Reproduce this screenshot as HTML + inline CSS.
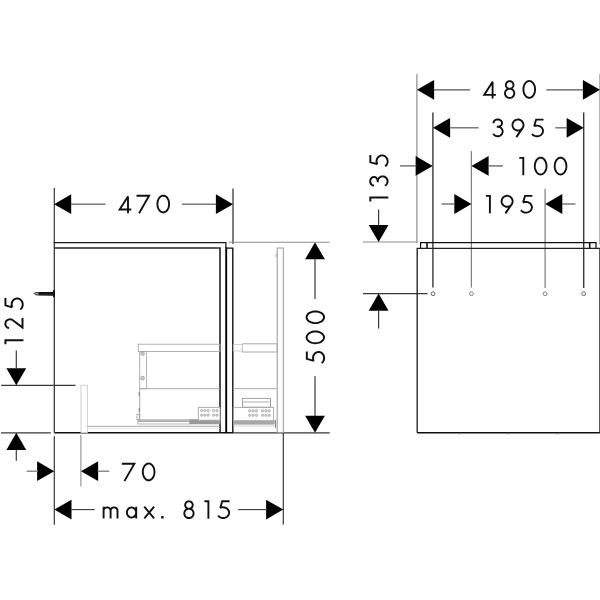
<!DOCTYPE html>
<html><head><meta charset="utf-8"><title>drawing</title>
<style>html,body{margin:0;padding:0;background:#fff;font-family:"Liberation Sans",sans-serif;}svg{display:block}</style>
</head><body>
<svg width="600" height="600" viewBox="0 0 600 600">
<rect width="600" height="600" fill="#fff"/>
<line x1="54.30" y1="188.00" x2="54.30" y2="243.00" stroke="#383838" stroke-width="1.20"/>
<line x1="233.00" y1="188.50" x2="233.00" y2="244.00" stroke="#383838" stroke-width="1.30"/>
<path d="M54.10,204.20 L71.20,194.30 L71.20,214.10 Z" fill="#000"/>
<path d="M233.00,204.20 L215.90,194.30 L215.90,214.10 Z" fill="#000"/>
<line x1="71.00" y1="204.20" x2="105.50" y2="204.20" stroke="#7a7a7a" stroke-width="1.35"/>
<line x1="182.00" y1="204.20" x2="216.20" y2="204.20" stroke="#7a7a7a" stroke-width="1.35"/>
<line x1="229.00" y1="242.20" x2="329.70" y2="242.20" stroke="#8c8c8c" stroke-width="1.10"/>
<line x1="1.00" y1="432.80" x2="50.80" y2="432.80" stroke="#383838" stroke-width="1.20"/>
<line x1="54.30" y1="432.80" x2="233.00" y2="432.80" stroke="#111" stroke-width="1.40"/>
<line x1="233.00" y1="432.80" x2="329.70" y2="432.80" stroke="#383838" stroke-width="1.20"/>
<line x1="54.30" y1="242.50" x2="54.30" y2="432.80" stroke="#333" stroke-width="1.25"/>
<path d="M53.70,242.50 L225.90,242.50 L225.90,248.00 " fill="none" stroke="#1a1a1a" stroke-width="1.25" stroke-linejoin="miter"/>
<line x1="226.20" y1="247.40" x2="226.20" y2="432.80" stroke="#000" stroke-width="1.90"/>
<path d="M54.30,248.00 L220.00,248.00 L220.00,432.80 " fill="none" stroke="#222" stroke-width="1.60" stroke-linejoin="miter"/>
<path d="M226.00,248.10 L232.80,248.10 L232.80,432.80 " fill="none" stroke="#111" stroke-width="1.40" stroke-linejoin="miter"/>
<path d="M38.2,292.0 L52.9,291.9 L53.2,289.9 L55,289.9 L55,297.3 L53.2,297.3 L52.9,295.7 L38.2,295.6 Z" fill="#111"/>
<path d="M38.4,292.5 L35.6,292.6 Q34.4,292.7 34.4,293.6 Q34.4,294.5 35.6,294.7 L38.4,295.1" fill="#999" stroke="#222" stroke-width="0.8"/>
<line x1="41" y1="294.6" x2="52" y2="294.6" stroke="#555" stroke-width="0.6" stroke-dasharray="1.2,0.8"/>
<line x1="1.20" y1="385.30" x2="75.50" y2="385.30" stroke="#383838" stroke-width="1.20"/>
<path d="M16.30,385.30 L6.40,368.20 L26.20,368.20 Z" fill="#000"/>
<line x1="16.30" y1="350.50" x2="16.30" y2="368.60" stroke="#383838" stroke-width="1.20"/>
<path d="M16.30,432.80 L6.40,449.90 L26.20,449.90 Z" fill="#000"/>
<line x1="16.30" y1="449.50" x2="16.30" y2="460.80" stroke="#383838" stroke-width="1.20"/>
<rect x="81.00" y="385.30" width="6.30" height="47.20" fill="none" stroke="#cfcfcf" stroke-width="1.00"/>
<line x1="87.30" y1="426.30" x2="220.00" y2="426.30" stroke="#a8a8a8" stroke-width="1.00"/>
<line x1="87.30" y1="428.60" x2="220.00" y2="428.60" stroke="#e2e2e2" stroke-width="0.80"/>
<rect x="138.20" y="344.20" width="81.80" height="7.30" fill="none" stroke="#a8a8a8" stroke-width="0.90"/>
<rect x="139.70" y="351.50" width="6.90" height="37.20" fill="none" stroke="#a8a8a8" stroke-width="0.90"/>
<circle cx="142.60" cy="353.60" r="1.80" fill="none" stroke="#888" stroke-width="0.80"/>
<circle cx="142.60" cy="353.60" r="0.70" fill="none" stroke="#888" stroke-width="0.60"/>
<circle cx="142.60" cy="378.10" r="1.80" fill="none" stroke="#888" stroke-width="0.80"/>
<circle cx="142.60" cy="378.10" r="0.70" fill="none" stroke="#888" stroke-width="0.60"/>
<line x1="139.70" y1="388.70" x2="220.00" y2="388.70" stroke="#a8a8a8" stroke-width="1.00"/>
<line x1="139.70" y1="388.70" x2="139.70" y2="419.70" stroke="#a8a8a8" stroke-width="1.00"/>
<line x1="139.20" y1="392.00" x2="139.20" y2="396.00" stroke="#777" stroke-width="1.00"/>
<line x1="139.20" y1="408.00" x2="139.20" y2="412.00" stroke="#777" stroke-width="1.00"/>
<rect x="137.00" y="414.20" width="2.70" height="5.50" fill="none" stroke="#999" stroke-width="0.80"/>
<rect x="137.80" y="419.70" width="82.20" height="1.90" fill="#b5b5b5" stroke="#aaa" stroke-width="0.50"/>
<rect x="189.50" y="419.70" width="30.50" height="4.30" fill="#9a9a9a" stroke="#999" stroke-width="0.50"/>
<rect x="137.80" y="421.60" width="51.70" height="2.40" fill="none" stroke="#aaa" stroke-width="0.80"/>
<rect x="198.30" y="407.40" width="21.70" height="12.80" fill="#fff" stroke="#a8a8a8" stroke-width="0.90"/>
<circle cx="201.60" cy="410.60" r="1.15" fill="#ddd" stroke="#999" stroke-width="0.70"/>
<circle cx="204.90" cy="410.60" r="1.15" fill="#ddd" stroke="#999" stroke-width="0.70"/>
<circle cx="208.20" cy="410.60" r="1.15" fill="#ddd" stroke="#999" stroke-width="0.70"/>
<circle cx="213.60" cy="410.60" r="1.15" fill="#ddd" stroke="#999" stroke-width="0.70"/>
<circle cx="216.90" cy="410.60" r="1.15" fill="#ddd" stroke="#999" stroke-width="0.70"/>
<circle cx="201.60" cy="415.20" r="1.15" fill="#ddd" stroke="#999" stroke-width="0.70"/>
<circle cx="204.90" cy="415.20" r="1.15" fill="#ddd" stroke="#999" stroke-width="0.70"/>
<circle cx="208.20" cy="415.20" r="1.15" fill="#ddd" stroke="#999" stroke-width="0.70"/>
<circle cx="213.60" cy="415.20" r="1.15" fill="#ddd" stroke="#999" stroke-width="0.70"/>
<circle cx="216.90" cy="415.20" r="1.15" fill="#ddd" stroke="#999" stroke-width="0.70"/>
<rect x="277.20" y="248.00" width="6.10" height="184.50" fill="none" stroke="#989898" stroke-width="1.00"/>
<line x1="276.20" y1="254.00" x2="276.20" y2="257.00" stroke="#888" stroke-width="0.80"/>
<rect x="242.40" y="343.80" width="34.80" height="8.20" fill="none" stroke="#a8a8a8" stroke-width="1.00"/>
<rect x="233.30" y="344.60" width="9.10" height="6.40" fill="none" stroke="#c8c8c8" stroke-width="0.80"/>
<line x1="233.30" y1="388.70" x2="277.20" y2="388.70" stroke="#a8a8a8" stroke-width="1.00"/>
<rect x="242.40" y="398.40" width="28.10" height="8.80" fill="none" stroke="#999" stroke-width="0.90"/>
<line x1="242.40" y1="402.00" x2="270.50" y2="402.00" stroke="#a8a8a8" stroke-width="0.90"/>
<rect x="233.30" y="407.40" width="40.30" height="13.40" fill="none" stroke="#a8a8a8" stroke-width="0.90"/>
<rect x="233.30" y="420.80" width="41.20" height="3.60" fill="#a8a8a8" stroke="#aaa" stroke-width="0.40"/>
<line x1="233.30" y1="426.00" x2="277.00" y2="426.00" stroke="#c8c8c8" stroke-width="0.80"/>
<line x1="275.50" y1="420.00" x2="275.50" y2="428.00" stroke="#777" stroke-width="0.90"/>
<circle cx="249.70" cy="410.80" r="1.15" fill="#ddd" stroke="#999" stroke-width="0.70"/>
<circle cx="253.10" cy="410.80" r="1.15" fill="#ddd" stroke="#999" stroke-width="0.70"/>
<circle cx="256.50" cy="410.80" r="1.15" fill="#ddd" stroke="#999" stroke-width="0.70"/>
<circle cx="262.60" cy="410.80" r="1.15" fill="#ddd" stroke="#999" stroke-width="0.70"/>
<circle cx="265.90" cy="410.80" r="1.15" fill="#ddd" stroke="#999" stroke-width="0.70"/>
<circle cx="269.20" cy="410.80" r="1.15" fill="#ddd" stroke="#999" stroke-width="0.70"/>
<circle cx="249.70" cy="415.30" r="1.15" fill="#ddd" stroke="#999" stroke-width="0.70"/>
<circle cx="253.10" cy="415.30" r="1.15" fill="#ddd" stroke="#999" stroke-width="0.70"/>
<circle cx="256.50" cy="415.30" r="1.15" fill="#ddd" stroke="#999" stroke-width="0.70"/>
<circle cx="262.60" cy="415.30" r="1.15" fill="#ddd" stroke="#999" stroke-width="0.70"/>
<circle cx="265.90" cy="415.30" r="1.15" fill="#ddd" stroke="#999" stroke-width="0.70"/>
<circle cx="269.20" cy="415.30" r="1.15" fill="#ddd" stroke="#999" stroke-width="0.70"/>
<path d="M315.00,242.20 L305.10,259.30 L324.90,259.30 Z" fill="#000"/>
<path d="M315.00,432.80 L305.10,415.70 L324.90,415.70 Z" fill="#000"/>
<line x1="315.00" y1="258.60" x2="315.00" y2="299.00" stroke="#383838" stroke-width="1.20"/>
<line x1="315.00" y1="376.20" x2="315.00" y2="416.30" stroke="#383838" stroke-width="1.20"/>
<line x1="54.30" y1="436.30" x2="54.30" y2="524.70" stroke="#383838" stroke-width="1.20"/>
<line x1="80.90" y1="435.00" x2="80.90" y2="486.50" stroke="#8c8c8c" stroke-width="1.10"/>
<line x1="283.30" y1="433.00" x2="283.30" y2="524.50" stroke="#383838" stroke-width="1.20"/>
<path d="M54.20,471.20 L37.10,461.30 L37.10,481.10 Z" fill="#000"/>
<line x1="26.70" y1="471.20" x2="38.00" y2="471.20" stroke="#7a7a7a" stroke-width="1.30"/>
<path d="M81.00,471.20 L98.10,461.30 L98.10,481.10 Z" fill="#000"/>
<line x1="97.50" y1="471.20" x2="109.20" y2="471.20" stroke="#7a7a7a" stroke-width="1.30"/>
<path d="M54.40,509.60 L71.50,499.70 L71.50,519.50 Z" fill="#000"/>
<line x1="71.00" y1="509.60" x2="94.70" y2="509.60" stroke="#383838" stroke-width="1.10"/>
<path d="M283.20,509.60 L266.10,499.70 L266.10,519.50 Z" fill="#000"/>
<line x1="238.20" y1="509.60" x2="267.00" y2="509.60" stroke="#383838" stroke-width="1.10"/>
<line x1="416.90" y1="74.00" x2="416.90" y2="243.00" stroke="#8c8c8c" stroke-width="1.20"/>
<line x1="599.70" y1="74.00" x2="599.70" y2="244.50" stroke="#b0b0b0" stroke-width="1.20"/>
<path d="M417.00,89.80 L434.10,79.90 L434.10,99.70 Z" fill="#000"/>
<line x1="433.50" y1="89.80" x2="470.00" y2="89.80" stroke="#555" stroke-width="1.30"/>
<path d="M600.00,89.80 L582.90,79.90 L582.90,99.70 Z" fill="#000"/>
<line x1="546.30" y1="89.80" x2="583.50" y2="89.80" stroke="#555" stroke-width="1.30"/>
<line x1="432.90" y1="112.50" x2="432.90" y2="287.60" stroke="#383838" stroke-width="1.40"/>
<line x1="583.70" y1="112.50" x2="583.70" y2="288.00" stroke="#383838" stroke-width="1.40"/>
<path d="M433.00,127.80 L450.10,117.90 L450.10,137.70 Z" fill="#000"/>
<line x1="449.50" y1="127.80" x2="478.70" y2="127.80" stroke="#6a6a6a" stroke-width="1.35"/>
<path d="M583.70,127.80 L566.60,117.90 L566.60,137.70 Z" fill="#000"/>
<line x1="555.30" y1="127.80" x2="567.20" y2="127.80" stroke="#6a6a6a" stroke-width="1.35"/>
<line x1="471.40" y1="151.00" x2="471.40" y2="287.60" stroke="#828282" stroke-width="1.25"/>
<line x1="545.10" y1="188.80" x2="545.10" y2="288.00" stroke="#828282" stroke-width="1.25"/>
<path d="M432.70,165.90 L415.60,156.00 L415.60,175.80 Z" fill="#000"/>
<line x1="400.00" y1="165.90" x2="416.40" y2="165.90" stroke="#666" stroke-width="1.35"/>
<path d="M471.50,165.90 L488.60,156.00 L488.60,175.80 Z" fill="#000"/>
<line x1="488.00" y1="165.90" x2="503.00" y2="165.90" stroke="#666" stroke-width="1.35"/>
<path d="M471.40,204.00 L454.30,194.10 L454.30,213.90 Z" fill="#000"/>
<line x1="441.40" y1="204.00" x2="454.60" y2="204.00" stroke="#6a6a6a" stroke-width="1.35"/>
<path d="M545.20,204.00 L562.30,194.10 L562.30,213.90 Z" fill="#000"/>
<line x1="561.80" y1="204.00" x2="575.50" y2="204.00" stroke="#6a6a6a" stroke-width="1.35"/>
<line x1="363.00" y1="242.00" x2="417.00" y2="242.00" stroke="#8c8c8c" stroke-width="1.10"/>
<path d="M378.60,242.00 L368.70,224.90 L388.50,224.90 Z" fill="#000"/>
<line x1="378.60" y1="209.40" x2="378.60" y2="226.00" stroke="#383838" stroke-width="1.20"/>
<line x1="363.00" y1="293.60" x2="427.60" y2="293.60" stroke="#383838" stroke-width="1.20"/>
<path d="M378.60,293.60 L368.70,310.70 L388.50,310.70 Z" fill="#000"/>
<line x1="378.60" y1="310.00" x2="378.60" y2="328.40" stroke="#383838" stroke-width="1.20"/>
<path d="M417.20,432.70 L417.20,248.30 L600.00,248.30 " fill="none" stroke="#222" stroke-width="1.35" stroke-linejoin="miter"/>
<line x1="417.20" y1="432.70" x2="600.00" y2="432.70" stroke="#111" stroke-width="1.40"/>
<line x1="599.70" y1="248.30" x2="599.70" y2="432.70" stroke="#333" stroke-width="1.00"/>
<path d="M420.60,248.30 L420.60,242.70 L596.00,242.70 L596.00,248.30 " fill="none" stroke="#111" stroke-width="1.20" stroke-linejoin="miter"/>
<line x1="427.00" y1="242.70" x2="427.00" y2="248.30" stroke="#111" stroke-width="1.60"/>
<line x1="589.70" y1="242.70" x2="589.70" y2="248.30" stroke="#111" stroke-width="1.60"/>
<circle cx="433.00" cy="293.70" r="1.90" fill="none" stroke="#555" stroke-width="0.90"/>
<circle cx="471.40" cy="293.70" r="1.90" fill="none" stroke="#777" stroke-width="0.90"/>
<circle cx="545.10" cy="293.70" r="1.90" fill="none" stroke="#777" stroke-width="0.90"/>
<circle cx="583.70" cy="293.70" r="1.90" fill="none" stroke="#555" stroke-width="0.90"/>
<line x1="458.00" y1="433.80" x2="460.50" y2="433.80" stroke="#888" stroke-width="0.90"/>
<line x1="507.00" y1="433.80" x2="509.50" y2="433.80" stroke="#888" stroke-width="0.90"/>
<line x1="556.00" y1="433.80" x2="558.50" y2="433.80" stroke="#888" stroke-width="0.90"/>
<path transform="translate(118.00,194.80)" d="M10,18.4 V1.6 L1.6,14.7 H13.3" fill="none" stroke="#111" stroke-width="1.90" stroke-linejoin="miter" stroke-miterlimit="3"/>
<path transform="translate(136.50,194.80)" d="M0,1.0 H12.6 L2.6,18.4" fill="none" stroke="#111" stroke-width="1.90" stroke-linejoin="miter" stroke-miterlimit="3"/>
<path transform="translate(156.50,194.80)" d="M12.60,9.20 L12.53,10.51 L12.31,11.80 L11.96,13.01 L11.48,14.14 L10.89,15.14 L10.19,16.00 L9.41,16.68 L8.56,17.19 L7.67,17.50 L6.75,17.60 L5.83,17.50 L4.94,17.19 L4.09,16.68 L3.31,16.00 L2.61,15.14 L2.02,14.14 L1.54,13.01 L1.19,11.80 L0.97,10.51 L0.90,9.20 L0.97,7.89 L1.19,6.60 L1.54,5.39 L2.02,4.26 L2.61,3.26 L3.31,2.40 L4.09,1.72 L4.94,1.21 L5.83,0.90 L6.75,0.80 L7.67,0.90 L8.56,1.21 L9.41,1.72 L10.19,2.40 L10.89,3.26 L11.48,4.26 L11.96,5.39 L12.31,6.60 L12.53,7.89 L12.60,9.20 Z" fill="none" stroke="#111" stroke-width="1.90" stroke-linejoin="miter" stroke-miterlimit="3"/>
<path transform="translate(482.60,80.20)" d="M10,18.4 V1.6 L1.6,14.7 H13.3" fill="none" stroke="#111" stroke-width="1.90" stroke-linejoin="miter" stroke-miterlimit="3"/>
<path transform="translate(504.10,80.20)" d="M9.35,4.75 L9.28,5.49 L9.06,6.20 L8.71,6.86 L8.24,7.44 L7.66,7.91 L7.00,8.26 L6.29,8.48 L5.55,8.55 L4.81,8.48 L4.10,8.26 L3.44,7.91 L2.86,7.44 L2.39,6.86 L2.04,6.20 L1.82,5.49 L1.75,4.75 L1.82,4.01 L2.04,3.30 L2.39,2.64 L2.86,2.06 L3.44,1.59 L4.10,1.24 L4.81,1.02 L5.55,0.95 L6.29,1.02 L7.00,1.24 L7.66,1.59 L8.24,2.06 L8.71,2.64 L9.06,3.30 L9.28,4.01 L9.35,4.75 Z M10.20,13.10 L10.13,13.91 L9.92,14.69 L9.58,15.42 L9.11,16.09 L8.54,16.66 L7.88,17.13 L7.14,17.47 L6.36,17.68 L5.55,17.75 L4.74,17.68 L3.96,17.47 L3.23,17.13 L2.56,16.66 L1.99,16.09 L1.52,15.42 L1.18,14.69 L0.97,13.91 L0.90,13.10 L0.97,12.29 L1.18,11.51 L1.52,10.77 L1.99,10.11 L2.56,9.54 L3.22,9.07 L3.96,8.73 L4.74,8.52 L5.55,8.45 L6.36,8.52 L7.14,8.73 L7.88,9.07 L8.54,9.54 L9.11,10.11 L9.58,10.77 L9.92,11.51 L10.13,12.29 L10.20,13.10 Z" fill="none" stroke="#111" stroke-width="1.90" stroke-linejoin="miter" stroke-miterlimit="3"/>
<path transform="translate(522.50,80.20)" d="M12.60,9.20 L12.53,10.51 L12.31,11.80 L11.96,13.01 L11.48,14.14 L10.89,15.14 L10.19,16.00 L9.41,16.68 L8.56,17.19 L7.67,17.50 L6.75,17.60 L5.83,17.50 L4.94,17.19 L4.09,16.68 L3.31,16.00 L2.61,15.14 L2.02,14.14 L1.54,13.01 L1.19,11.80 L0.97,10.51 L0.90,9.20 L0.97,7.89 L1.19,6.60 L1.54,5.39 L2.02,4.26 L2.61,3.26 L3.31,2.40 L4.09,1.72 L4.94,1.21 L5.83,0.90 L6.75,0.80 L7.67,0.90 L8.56,1.21 L9.41,1.72 L10.19,2.40 L10.89,3.26 L11.48,4.26 L11.96,5.39 L12.31,6.60 L12.53,7.89 L12.60,9.20 Z" fill="none" stroke="#111" stroke-width="1.90" stroke-linejoin="miter" stroke-miterlimit="3"/>
<path transform="translate(492.20,118.60)" d="M1.25,4.63 L1.30,3.96 L1.48,3.32 L1.80,2.71 L2.25,2.16 L2.80,1.69 L3.45,1.31 L4.17,1.04 L4.93,0.89 L5.71,0.85 L6.49,0.94 L7.24,1.14 L7.93,1.46 L8.54,1.87 L9.05,2.38 L9.44,2.95 L9.71,3.58 L9.84,4.24 L9.82,4.90 L9.67,5.55 L9.37,6.17 L8.95,6.73 L8.42,7.22 L7.79,7.62 L7.09,7.91 L6.33,8.09 L5.55,8.15 L4.6,8.15 M5.45,8.15 L6.20,8.20 L6.94,8.36 L7.64,8.63 L8.29,8.99 L8.87,9.44 L9.38,9.97 L9.80,10.56 L10.12,11.21 L10.34,11.90 L10.44,12.60 L10.43,13.32 L10.31,14.03 L10.07,14.71 L9.74,15.35 L9.30,15.93 L8.78,16.45 L8.18,16.88 L7.52,17.22 L6.81,17.47 L6.07,17.61 L5.32,17.65 L4.57,17.58 L3.84,17.40 L3.15,17.12 L2.51,16.74 L1.93,16.28 L1.44,15.73 L1.04,15.13 " fill="none" stroke="#111" stroke-width="1.90" stroke-linejoin="miter" stroke-miterlimit="3"/>
<path transform="translate(511.50,118.60)" d="M11.01,9.55 L10.46,10.22 L9.81,10.79 L9.08,11.26 L8.29,11.60 L7.46,11.82 L6.60,11.90 L5.73,11.85 L4.89,11.66 L4.09,11.34 L3.35,10.91 L2.68,10.36 L2.11,9.71 L1.64,8.98 L1.30,8.19 L1.08,7.36 L1.00,6.50 L1.05,5.63 L1.24,4.79 L1.56,3.99 L1.99,3.25 L2.54,2.58 L3.19,2.01 L3.92,1.54 L4.71,1.20 L5.54,0.98 L6.40,0.90 L7.27,0.95 L8.11,1.14 L8.91,1.46 L9.65,1.89 L10.32,2.44 L10.89,3.09 L11.36,3.82 L11.70,4.61 L11.92,5.44 L12.00,6.30 L11.95,7.17 L11.76,8.01 L11.44,8.81 L11.01,9.55 L4.8,18.5" fill="none" stroke="#111" stroke-width="1.90" stroke-linejoin="miter" stroke-miterlimit="3"/>
<path transform="translate(531.20,118.60)" d="M12.3,1.0 H4.9 L3.0,7.6 L2.98,7.63 L3.83,7.30 L4.72,7.09 L5.63,7.00 L6.55,7.04 L7.45,7.21 L8.32,7.49 L9.12,7.89 L9.85,8.40 L10.48,9.00 L11.00,9.68 L11.39,10.42 L11.66,11.20 L11.79,12.01 L11.78,12.83 L11.62,13.64 L11.33,14.42 L10.91,15.15 L10.37,15.82 L9.72,16.40 L8.98,16.89 L8.16,17.27 L7.29,17.53 L6.39,17.67 L5.47,17.69 L4.55,17.58 L3.67,17.35 L2.84,17.00 L2.07,16.54 L1.40,15.99 L0.83,15.34 " fill="none" stroke="#111" stroke-width="1.90" stroke-linejoin="miter" stroke-miterlimit="3"/>
<path transform="translate(519.30,156.90)" d="M0,1.0 H4.0 V18.4" fill="none" stroke="#111" stroke-width="1.90" stroke-linejoin="miter" stroke-miterlimit="3"/>
<path transform="translate(533.90,156.90)" d="M12.60,9.20 L12.53,10.51 L12.31,11.80 L11.96,13.01 L11.48,14.14 L10.89,15.14 L10.19,16.00 L9.41,16.68 L8.56,17.19 L7.67,17.50 L6.75,17.60 L5.83,17.50 L4.94,17.19 L4.09,16.68 L3.31,16.00 L2.61,15.14 L2.02,14.14 L1.54,13.01 L1.19,11.80 L0.97,10.51 L0.90,9.20 L0.97,7.89 L1.19,6.60 L1.54,5.39 L2.02,4.26 L2.61,3.26 L3.31,2.40 L4.09,1.72 L4.94,1.21 L5.83,0.90 L6.75,0.80 L7.67,0.90 L8.56,1.21 L9.41,1.72 L10.19,2.40 L10.89,3.26 L11.48,4.26 L11.96,5.39 L12.31,6.60 L12.53,7.89 L12.60,9.20 Z" fill="none" stroke="#111" stroke-width="1.90" stroke-linejoin="miter" stroke-miterlimit="3"/>
<path transform="translate(553.80,156.90)" d="M12.60,9.20 L12.53,10.51 L12.31,11.80 L11.96,13.01 L11.48,14.14 L10.89,15.14 L10.19,16.00 L9.41,16.68 L8.56,17.19 L7.67,17.50 L6.75,17.60 L5.83,17.50 L4.94,17.19 L4.09,16.68 L3.31,16.00 L2.61,15.14 L2.02,14.14 L1.54,13.01 L1.19,11.80 L0.97,10.51 L0.90,9.20 L0.97,7.89 L1.19,6.60 L1.54,5.39 L2.02,4.26 L2.61,3.26 L3.31,2.40 L4.09,1.72 L4.94,1.21 L5.83,0.90 L6.75,0.80 L7.67,0.90 L8.56,1.21 L9.41,1.72 L10.19,2.40 L10.89,3.26 L11.48,4.26 L11.96,5.39 L12.31,6.60 L12.53,7.89 L12.60,9.20 Z" fill="none" stroke="#111" stroke-width="1.90" stroke-linejoin="miter" stroke-miterlimit="3"/>
<path transform="translate(485.90,194.90)" d="M0,1.0 H4.0 V18.4" fill="none" stroke="#111" stroke-width="1.90" stroke-linejoin="miter" stroke-miterlimit="3"/>
<path transform="translate(500.60,194.90)" d="M11.01,9.55 L10.46,10.22 L9.81,10.79 L9.08,11.26 L8.29,11.60 L7.46,11.82 L6.60,11.90 L5.73,11.85 L4.89,11.66 L4.09,11.34 L3.35,10.91 L2.68,10.36 L2.11,9.71 L1.64,8.98 L1.30,8.19 L1.08,7.36 L1.00,6.50 L1.05,5.63 L1.24,4.79 L1.56,3.99 L1.99,3.25 L2.54,2.58 L3.19,2.01 L3.92,1.54 L4.71,1.20 L5.54,0.98 L6.40,0.90 L7.27,0.95 L8.11,1.14 L8.91,1.46 L9.65,1.89 L10.32,2.44 L10.89,3.09 L11.36,3.82 L11.70,4.61 L11.92,5.44 L12.00,6.30 L11.95,7.17 L11.76,8.01 L11.44,8.81 L11.01,9.55 L4.8,18.5" fill="none" stroke="#111" stroke-width="1.90" stroke-linejoin="miter" stroke-miterlimit="3"/>
<path transform="translate(520.10,194.90)" d="M12.3,1.0 H4.9 L3.0,7.6 L2.98,7.63 L3.83,7.30 L4.72,7.09 L5.63,7.00 L6.55,7.04 L7.45,7.21 L8.32,7.49 L9.12,7.89 L9.85,8.40 L10.48,9.00 L11.00,9.68 L11.39,10.42 L11.66,11.20 L11.79,12.01 L11.78,12.83 L11.62,13.64 L11.33,14.42 L10.91,15.15 L10.37,15.82 L9.72,16.40 L8.98,16.89 L8.16,17.27 L7.29,17.53 L6.39,17.67 L5.47,17.69 L4.55,17.58 L3.67,17.35 L2.84,17.00 L2.07,16.54 L1.40,15.99 L0.83,15.34 " fill="none" stroke="#111" stroke-width="1.90" stroke-linejoin="miter" stroke-miterlimit="3"/>
<path transform="translate(121.80,462.70)" d="M0,1.0 H12.6 L2.6,18.4" fill="none" stroke="#111" stroke-width="1.90" stroke-linejoin="miter" stroke-miterlimit="3"/>
<path transform="translate(141.90,462.70)" d="M12.60,9.20 L12.53,10.51 L12.31,11.80 L11.96,13.01 L11.48,14.14 L10.89,15.14 L10.19,16.00 L9.41,16.68 L8.56,17.19 L7.67,17.50 L6.75,17.60 L5.83,17.50 L4.94,17.19 L4.09,16.68 L3.31,16.00 L2.61,15.14 L2.02,14.14 L1.54,13.01 L1.19,11.80 L0.97,10.51 L0.90,9.20 L0.97,7.89 L1.19,6.60 L1.54,5.39 L2.02,4.26 L2.61,3.26 L3.31,2.40 L4.09,1.72 L4.94,1.21 L5.83,0.90 L6.75,0.80 L7.67,0.90 L8.56,1.21 L9.41,1.72 L10.19,2.40 L10.89,3.26 L11.48,4.26 L11.96,5.39 L12.31,6.60 L12.53,7.89 L12.60,9.20 Z" fill="none" stroke="#111" stroke-width="1.90" stroke-linejoin="miter" stroke-miterlimit="3"/>
<path transform="translate(183.40,500.30)" d="M9.35,4.75 L9.28,5.49 L9.06,6.20 L8.71,6.86 L8.24,7.44 L7.66,7.91 L7.00,8.26 L6.29,8.48 L5.55,8.55 L4.81,8.48 L4.10,8.26 L3.44,7.91 L2.86,7.44 L2.39,6.86 L2.04,6.20 L1.82,5.49 L1.75,4.75 L1.82,4.01 L2.04,3.30 L2.39,2.64 L2.86,2.06 L3.44,1.59 L4.10,1.24 L4.81,1.02 L5.55,0.95 L6.29,1.02 L7.00,1.24 L7.66,1.59 L8.24,2.06 L8.71,2.64 L9.06,3.30 L9.28,4.01 L9.35,4.75 Z M10.20,13.10 L10.13,13.91 L9.92,14.69 L9.58,15.42 L9.11,16.09 L8.54,16.66 L7.88,17.13 L7.14,17.47 L6.36,17.68 L5.55,17.75 L4.74,17.68 L3.96,17.47 L3.23,17.13 L2.56,16.66 L1.99,16.09 L1.52,15.42 L1.18,14.69 L0.97,13.91 L0.90,13.10 L0.97,12.29 L1.18,11.51 L1.52,10.77 L1.99,10.11 L2.56,9.54 L3.22,9.07 L3.96,8.73 L4.74,8.52 L5.55,8.45 L6.36,8.52 L7.14,8.73 L7.88,9.07 L8.54,9.54 L9.11,10.11 L9.58,10.77 L9.92,11.51 L10.13,12.29 L10.20,13.10 Z" fill="none" stroke="#111" stroke-width="1.90" stroke-linejoin="miter" stroke-miterlimit="3"/>
<path transform="translate(204.40,500.30)" d="M0,1.0 H4.0 V18.4" fill="none" stroke="#111" stroke-width="1.90" stroke-linejoin="miter" stroke-miterlimit="3"/>
<path transform="translate(217.30,500.30)" d="M12.3,1.0 H4.9 L3.0,7.6 L2.98,7.63 L3.83,7.30 L4.72,7.09 L5.63,7.00 L6.55,7.04 L7.45,7.21 L8.32,7.49 L9.12,7.89 L9.85,8.40 L10.48,9.00 L11.00,9.68 L11.39,10.42 L11.66,11.20 L11.79,12.01 L11.78,12.83 L11.62,13.64 L11.33,14.42 L10.91,15.15 L10.37,15.82 L9.72,16.40 L8.98,16.89 L8.16,17.27 L7.29,17.53 L6.39,17.67 L5.47,17.69 L4.55,17.58 L3.67,17.35 L2.84,17.00 L2.07,16.54 L1.40,15.99 L0.83,15.34 " fill="none" stroke="#111" stroke-width="1.90" stroke-linejoin="miter" stroke-miterlimit="3"/>
<path transform="translate(102.70,506.50)" d="M0.9,11.9 V0.3 M0.9,4.6 C0.9,-0.4 7.9,-0.4 7.9,4.6 V11.9 M7.9,4.6 C7.9,-0.4 14.8,-0.4 14.8,4.6 V11.9" fill="none" stroke="#111" stroke-width="1.90" stroke-linejoin="miter" stroke-miterlimit="3"/>
<path transform="translate(126.00,506.50)" d="M10.10,6.00 L10.01,6.98 L9.75,7.91 L9.32,8.78 L8.75,9.54 L8.06,10.16 L7.26,10.62 L6.40,10.90 L5.50,11.00 L4.60,10.90 L3.74,10.62 L2.94,10.16 L2.25,9.54 L1.68,8.78 L1.25,7.91 L0.99,6.98 L0.90,6.00 L0.99,5.02 L1.25,4.09 L1.68,3.22 L2.25,2.46 L2.94,1.84 L3.74,1.38 L4.60,1.10 L5.50,1.00 L6.40,1.10 L7.26,1.38 L8.06,1.84 L8.75,2.46 L9.32,3.22 L9.75,4.09 L10.01,5.02 L10.10,6.00 Z M10.2,0.2 V11.9" fill="none" stroke="#111" stroke-width="1.90" stroke-linejoin="miter" stroke-miterlimit="3"/>
<path transform="translate(143.70,506.50)" d="M0.6,0.2 L10.4,11.9 M10.4,0.2 L0.6,11.9" fill="none" stroke="#111" stroke-width="1.90" stroke-linejoin="miter" stroke-miterlimit="3"/>
<rect x="161.1" y="516.1" width="2.5" height="2.4" fill="#111"/>
<path transform="translate(4.40,344.30) rotate(-90) scale(1,1.035)" d="M0,1.0 H4.0 V18.4" fill="none" stroke="#111" stroke-width="1.90" stroke-linejoin="miter" stroke-miterlimit="3"/>
<path transform="translate(4.40,329.20) rotate(-90) scale(1,1.035)" d="M1.00,4.46 L1.19,3.81 L1.48,3.18 L1.87,2.61 L2.33,2.11 L2.87,1.68 L3.46,1.34 L4.10,1.09 L4.77,0.94 L5.46,0.90 L6.14,0.96 L6.81,1.13 L7.44,1.39 L8.03,1.75 L8.55,2.19 L9.01,2.71 L9.37,3.29 L9.65,3.92 L9.82,4.58 L9.90,5.26 L9.87,5.95 L9.73,6.62 L9.49,7.27 L9.16,7.87 L8.74,8.41 L1.6,17.5 H11.3" fill="none" stroke="#111" stroke-width="1.90" stroke-linejoin="miter" stroke-miterlimit="3"/>
<path transform="translate(4.40,310.30) rotate(-90) scale(1,1.035)" d="M12.3,1.0 H4.9 L3.0,7.6 L2.98,7.63 L3.83,7.30 L4.72,7.09 L5.63,7.00 L6.55,7.04 L7.45,7.21 L8.32,7.49 L9.12,7.89 L9.85,8.40 L10.48,9.00 L11.00,9.68 L11.39,10.42 L11.66,11.20 L11.79,12.01 L11.78,12.83 L11.62,13.64 L11.33,14.42 L10.91,15.15 L10.37,15.82 L9.72,16.40 L8.98,16.89 L8.16,17.27 L7.29,17.53 L6.39,17.67 L5.47,17.69 L4.55,17.58 L3.67,17.35 L2.84,17.00 L2.07,16.54 L1.40,15.99 L0.83,15.34 " fill="none" stroke="#111" stroke-width="1.90" stroke-linejoin="miter" stroke-miterlimit="3"/>
<path transform="translate(369.30,201.50) rotate(-90) scale(1,1.035)" d="M0,1.0 H4.0 V18.4" fill="none" stroke="#111" stroke-width="1.90" stroke-linejoin="miter" stroke-miterlimit="3"/>
<path transform="translate(369.30,186.80) rotate(-90) scale(1,1.035)" d="M1.25,4.63 L1.30,3.96 L1.48,3.32 L1.80,2.71 L2.25,2.16 L2.80,1.69 L3.45,1.31 L4.17,1.04 L4.93,0.89 L5.71,0.85 L6.49,0.94 L7.24,1.14 L7.93,1.46 L8.54,1.87 L9.05,2.38 L9.44,2.95 L9.71,3.58 L9.84,4.24 L9.82,4.90 L9.67,5.55 L9.37,6.17 L8.95,6.73 L8.42,7.22 L7.79,7.62 L7.09,7.91 L6.33,8.09 L5.55,8.15 L4.6,8.15 M5.45,8.15 L6.20,8.20 L6.94,8.36 L7.64,8.63 L8.29,8.99 L8.87,9.44 L9.38,9.97 L9.80,10.56 L10.12,11.21 L10.34,11.90 L10.44,12.60 L10.43,13.32 L10.31,14.03 L10.07,14.71 L9.74,15.35 L9.30,15.93 L8.78,16.45 L8.18,16.88 L7.52,17.22 L6.81,17.47 L6.07,17.61 L5.32,17.65 L4.57,17.58 L3.84,17.40 L3.15,17.12 L2.51,16.74 L1.93,16.28 L1.44,15.73 L1.04,15.13 " fill="none" stroke="#111" stroke-width="1.90" stroke-linejoin="miter" stroke-miterlimit="3"/>
<path transform="translate(369.30,167.20) rotate(-90) scale(1,1.035)" d="M12.3,1.0 H4.9 L3.0,7.6 L2.98,7.63 L3.83,7.30 L4.72,7.09 L5.63,7.00 L6.55,7.04 L7.45,7.21 L8.32,7.49 L9.12,7.89 L9.85,8.40 L10.48,9.00 L11.00,9.68 L11.39,10.42 L11.66,11.20 L11.79,12.01 L11.78,12.83 L11.62,13.64 L11.33,14.42 L10.91,15.15 L10.37,15.82 L9.72,16.40 L8.98,16.89 L8.16,17.27 L7.29,17.53 L6.39,17.67 L5.47,17.69 L4.55,17.58 L3.67,17.35 L2.84,17.00 L2.07,16.54 L1.40,15.99 L0.83,15.34 " fill="none" stroke="#111" stroke-width="1.90" stroke-linejoin="miter" stroke-miterlimit="3"/>
<path transform="translate(305.80,363.80) rotate(-90) scale(1,1.035)" d="M12.3,1.0 H4.9 L3.0,7.6 L2.98,7.63 L3.83,7.30 L4.72,7.09 L5.63,7.00 L6.55,7.04 L7.45,7.21 L8.32,7.49 L9.12,7.89 L9.85,8.40 L10.48,9.00 L11.00,9.68 L11.39,10.42 L11.66,11.20 L11.79,12.01 L11.78,12.83 L11.62,13.64 L11.33,14.42 L10.91,15.15 L10.37,15.82 L9.72,16.40 L8.98,16.89 L8.16,17.27 L7.29,17.53 L6.39,17.67 L5.47,17.69 L4.55,17.58 L3.67,17.35 L2.84,17.00 L2.07,16.54 L1.40,15.99 L0.83,15.34 " fill="none" stroke="#111" stroke-width="1.90" stroke-linejoin="miter" stroke-miterlimit="3"/>
<path transform="translate(305.80,344.10) rotate(-90) scale(1,1.035)" d="M12.60,9.20 L12.53,10.51 L12.31,11.80 L11.96,13.01 L11.48,14.14 L10.89,15.14 L10.19,16.00 L9.41,16.68 L8.56,17.19 L7.67,17.50 L6.75,17.60 L5.83,17.50 L4.94,17.19 L4.09,16.68 L3.31,16.00 L2.61,15.14 L2.02,14.14 L1.54,13.01 L1.19,11.80 L0.97,10.51 L0.90,9.20 L0.97,7.89 L1.19,6.60 L1.54,5.39 L2.02,4.26 L2.61,3.26 L3.31,2.40 L4.09,1.72 L4.94,1.21 L5.83,0.90 L6.75,0.80 L7.67,0.90 L8.56,1.21 L9.41,1.72 L10.19,2.40 L10.89,3.26 L11.48,4.26 L11.96,5.39 L12.31,6.60 L12.53,7.89 L12.60,9.20 Z" fill="none" stroke="#111" stroke-width="1.90" stroke-linejoin="miter" stroke-miterlimit="3"/>
<path transform="translate(305.80,324.00) rotate(-90) scale(1,1.035)" d="M12.60,9.20 L12.53,10.51 L12.31,11.80 L11.96,13.01 L11.48,14.14 L10.89,15.14 L10.19,16.00 L9.41,16.68 L8.56,17.19 L7.67,17.50 L6.75,17.60 L5.83,17.50 L4.94,17.19 L4.09,16.68 L3.31,16.00 L2.61,15.14 L2.02,14.14 L1.54,13.01 L1.19,11.80 L0.97,10.51 L0.90,9.20 L0.97,7.89 L1.19,6.60 L1.54,5.39 L2.02,4.26 L2.61,3.26 L3.31,2.40 L4.09,1.72 L4.94,1.21 L5.83,0.90 L6.75,0.80 L7.67,0.90 L8.56,1.21 L9.41,1.72 L10.19,2.40 L10.89,3.26 L11.48,4.26 L11.96,5.39 L12.31,6.60 L12.53,7.89 L12.60,9.20 Z" fill="none" stroke="#111" stroke-width="1.90" stroke-linejoin="miter" stroke-miterlimit="3"/>
</svg>
</body></html>
